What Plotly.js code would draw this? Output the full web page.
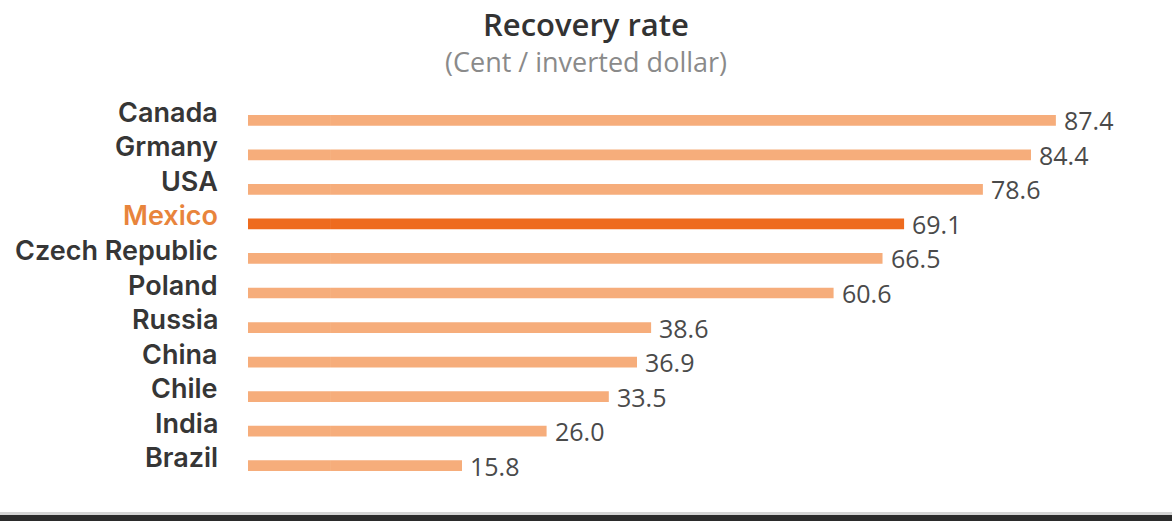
<!DOCTYPE html>
<html>
<head>
<meta charset="utf-8">
<script src="https://cdn.plot.ly/plotly-3.0.1.min.js"></script>
<style>html,body{margin:0;padding:0;background:#fff;}#chart{width:1172px;height:521px;}</style>
</head>
<body>
<div id="chart"></div>
<script>
const countries = ["Canada","Grmany","USA","Mexico","Czech Republic","Poland","Russia","China","Chile","India","Brazil"];
const rates = [87.4, 84.4, 78.6, 69.1, 66.5, 60.6, 38.6, 36.9, 33.5, 26.0, 15.8];
const highlight = "Mexico";

const W = 1172, H = 521, mt = 103, mb = 38;
const ph = H - mt - mb;
const py = px => (H - mb - px) / ph;

const barColors = countries.map(c => c === highlight ? "#EE6B1E" : "#F6AD7B");

// bars start a little left of zero, as in the original graphic
const stubLen = 10;
const stub = {
  type: "bar", orientation: "h", y: countries, x: countries.map(() => stubLen), base: -stubLen,
  width: 0.31, marker: {color: barColors, line: {width: 0}}, hoverinfo: "skip"
};
const trace = {
  type: "bar", orientation: "h", y: countries, x: rates, base: 0,
  width: 0.31, marker: {color: barColors, line: {width: 0}}, hoverinfo: "skip"
};

const annotations = [];
countries.forEach((c, i) => {
  annotations.push({
    xref: "paper", yref: "y", x: 220 / W, y: c,
    xanchor: "right", yanchor: "middle", yshift: 8,
    text: c, showarrow: false,
    font: {family: "Inter", size: 27, color: c === highlight ? "#E8843C" : "#363636", weight: 600}
  });
  annotations.push({
    xref: "x", yref: "y", x: rates[i], y: c,
    xanchor: "left", yanchor: "middle", xshift: 6,
    text: rates[i].toFixed(1), showarrow: false,
    font: {family: "Open Sans", size: 25, color: "#4a4a4a"}
  });
});
annotations.push({
  xref: "paper", yref: "paper", x: 0.5, y: py(24), xanchor: "center", yanchor: "middle",
  text: "Recovery rate", showarrow: false,
  font: {family: "Open Sans", size: 31, color: "#333333", weight: 600}
});
annotations.push({
  xref: "paper", yref: "paper", x: 0.5, y: py(61), xanchor: "center", yanchor: "middle",
  text: "(Cent / inverted dollar)", showarrow: false,
  font: {family: "Open Sans", size: 27, color: "#8a8a8a"}
});

const layout = {
  width: W, height: H,
  margin: {l: 0, r: 0, t: mt, b: mb},
  paper_bgcolor: "#ffffff", plot_bgcolor: "#ffffff",
  showlegend: false, barmode: "overlay",
  xaxis: {range: [-39.9, 101.4], visible: false, fixedrange: true},
  yaxis: {type: "category", range: [10.5, -0.5], visible: false, fixedrange: true},
  annotations: annotations,
  shapes: [
    {type: "rect", xref: "paper", yref: "paper", x0: 0, x1: 1, y0: py(515), y1: py(512), fillcolor: "#d4d4d4", line: {width: 0}, layer: "above"},
    {type: "rect", xref: "paper", yref: "paper", x0: 0, x1: 1, y0: py(521), y1: py(515), fillcolor: "#2b2b2b", line: {width: 0}, layer: "above"}
  ]
};

Plotly.newPlot("chart", [stub, trace], layout, {displayModeBar: false, staticPlot: true});
</script>
</body>
</html>
